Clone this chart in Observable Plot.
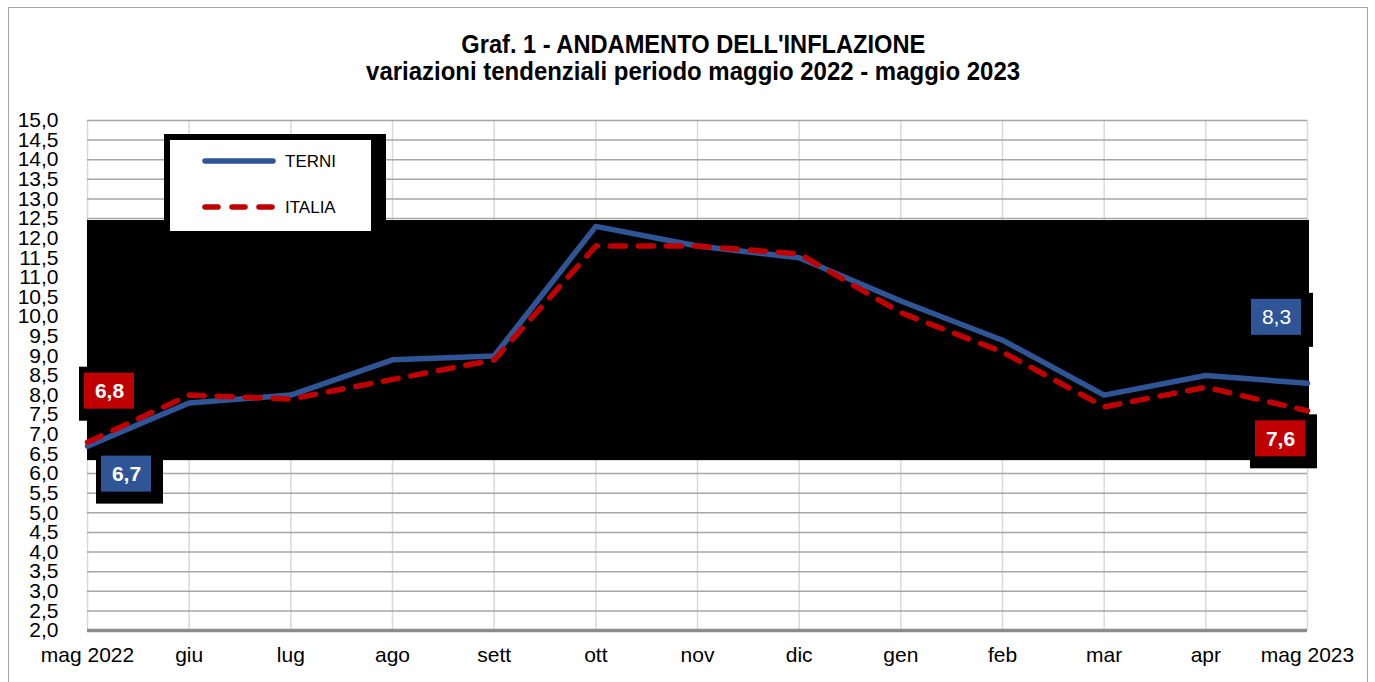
<!DOCTYPE html>
<html>
<head>
<meta charset="utf-8">
<script src="https://cdn.jsdelivr.net/npm/d3@7"></script>
<script src="https://cdn.jsdelivr.net/npm/@observablehq/plot@0.6"></script>
<style>
  html, body { margin: 0; padding: 0; background: #fff; overflow: hidden; }
  #wrap { position: relative; width: 1375px; height: 682px; font-family: "Liberation Sans", Arial, sans-serif; }
  #frame { position: absolute; left: 8px; top: 7px; width: 1360px; height: 700px; border: 1px solid #a6a6a6; box-sizing: border-box; }
  .ttl { position: absolute; left: 6px; width: 1375px; text-align: center; font-weight: bold; font-size: 25px; line-height: 25px; color: #000; white-space: nowrap; }
  .ttl span { display: inline-block; transform-origin: center; }
  #chart { position: absolute; left: 0; top: 0; }
  #legOuter { position: absolute; left: 164px; top: 134px; width: 222px; height: 99px; background: #000; }
  #legInner { position: absolute; left: 170px; top: 140px; width: 201px; height: 91px; background: #fff; }
  #legInner svg { position: absolute; left: 0; top: 0; }
</style>
</head>
<body>
<div id="wrap">
  <div id="chart"></div>
  <div id="frame"></div>
  <div class="ttl" id="t1" style="top:32px"><span>Graf. 1 - ANDAMENTO DELL'INFLAZIONE</span></div>
  <div class="ttl" id="t2" style="top:59px"><span>variazioni tendenziali periodo maggio 2022 - maggio 2023</span></div>
  <div id="legOuter"></div>
  <div id="legInner"></div>
</div>
<script>
// ---- data ----
const months = ["mag 2022","giu","lug","ago","sett","ott","nov","dic","gen","feb","mar","apr","mag 2023"];
const terni  = [6.7, 7.8, 8.0, 8.9, 9.0, 12.3, 11.8, 11.5, 10.4, 9.4, 8.0, 8.5, 8.3];
const italia = [6.8, 8.0, 7.9, 8.4, 8.9, 11.8, 11.8, 11.6, 10.1, 9.1, 7.7, 8.2, 7.6];
const yTicks = [2.0,2.5,3.0,3.5,4.0,4.5,5.0,5.5,6.0,6.5,7.0,7.5,8.0,8.5,9.0,9.5,10.0,10.5,11.0,11.5,12.0,12.5,13.0,13.5,14.0,14.5,15.0];
const seriesNames = ["TERNI", "ITALIA"];
const maskBand = [6.33, 12.45]; // dark band visible in the reference

const colors = { TERNI: "#2F5597", ITALIA: "#C00000" };
const idx = months.map((_, i) => i);
const terniData = terni.map((v, i) => ({ i, v }));
const italiaData = italia.map((v, i) => ({ i, v }));
const fmt = d => d.toFixed(1).replace(".", ",");

function labelMarks(data, i, color, dx, dy, bold) {
  const d = [data[i]];
  return [
    Plot.rect(d, { x1: "i", x2: "i", y1: "v", y2: "v", dx, dy, fill: "#000",
      insetLeft: -30, insetRight: -37, insetTop: -24, insetBottom: -30 }),
    Plot.rect(d, { x1: "i", x2: "i", y1: "v", y2: "v", dx, dy, fill: color,
      insetLeft: -25, insetRight: -25, insetTop: -18, insetBottom: -18 }),
    Plot.text(d, { x: "i", y: "v", dx, dy, text: r => fmt(r.v), fill: "#fff",
      fontSize: 21, fontWeight: bold ? "bold" : "normal" })
  ];
}

const chart = Plot.plot({
  width: 1375, height: 682,
  marginLeft: 87, marginRight: 68, marginTop: 120, marginBottom: 52,
  x: { type: "linear", domain: [0, 12] },
  y: { domain: [2, 15] },
  style: { fontFamily: "'Liberation Sans', Arial, sans-serif", color: "#000", background: "transparent", overflow: "visible" },
  marks: [
    Plot.ruleX(idx, { stroke: "#d9d9d9", strokeWidth: 1.5 }),
    Plot.ruleY(yTicks, { stroke: "#a6a6a6", strokeWidth: 1.5 }),
    Plot.rect([maskBand], { x1: 0, x2: 12, y1: d => d[0], y2: d => d[1], fill: "#000", insetRight: -2 }),
    Plot.ruleY([2], { stroke: "#8c8c8c", strokeWidth: 3.5 }),
    labelMarks(italiaData, 0, colors.ITALIA, 22, -51, true)[0],
    labelMarks(terniData, 0, colors.TERNI, 39, 28, true)[0],
    labelMarks(terniData, 12, colors.TERNI, -31, -66, false)[0],
    labelMarks(italiaData, 12, colors.ITALIA, -27, 28, true)[0],
    Plot.line(terniData, { x: "i", y: "v", stroke: colors.TERNI, strokeWidth: 5.5, strokeLinejoin: "round", strokeLinecap: "round" }),
    Plot.line(italiaData, { x: "i", y: "v", stroke: colors.ITALIA, strokeWidth: 5.5, strokeDasharray: "15,13", strokeLinejoin: "round", strokeLinecap: "round" }),
    ...labelMarks(italiaData, 0, colors.ITALIA, 22, -51, true).slice(1),
    ...labelMarks(terniData, 0, colors.TERNI, 39, 28, true).slice(1),
    ...labelMarks(terniData, 12, colors.TERNI, -31, -66, false).slice(1),
    ...labelMarks(italiaData, 12, colors.ITALIA, -27, 28, true).slice(1),
    Plot.axisY(yTicks, { tickSize: 0, tickPadding: 29, tickFormat: fmt, fontSize: 21, label: null }),
    Plot.axisX(idx, { tickSize: 0, tickPadding: 17, tickFormat: i => months[i], fontSize: 21, label: null })
  ]
});
document.getElementById("chart").appendChild(chart);

// legend
const leg = d3.select("#legInner").append("svg").attr("width", 201).attr("height", 91);
seriesNames.forEach((name, k) => {
  const y = k === 0 ? 21 : 67;
  leg.append("line").attr("x1", 35).attr("x2", 103).attr("y1", y).attr("y2", y)
    .attr("stroke", colors[name]).attr("stroke-width", 5.5).attr("stroke-linecap", "round")
    .attr("stroke-dasharray", k === 0 ? null : "13,14");
  leg.append("text").attr("x", 115).attr("y", y).attr("dy", "0.35em")
    .attr("font-family", "'Liberation Sans', Arial, sans-serif").attr("font-size", 17).attr("fill", "#000")
    .text(name);
});

// condense titles to match reference widths
[["t1", 464], ["t2", 654]].forEach(([id, w]) => {
  const s = document.querySelector("#" + id + " span");
  const cw = s.getBoundingClientRect().width;
  s.style.transform = `scaleX(${w / cw})`;
});
</script>
</body>
</html>
